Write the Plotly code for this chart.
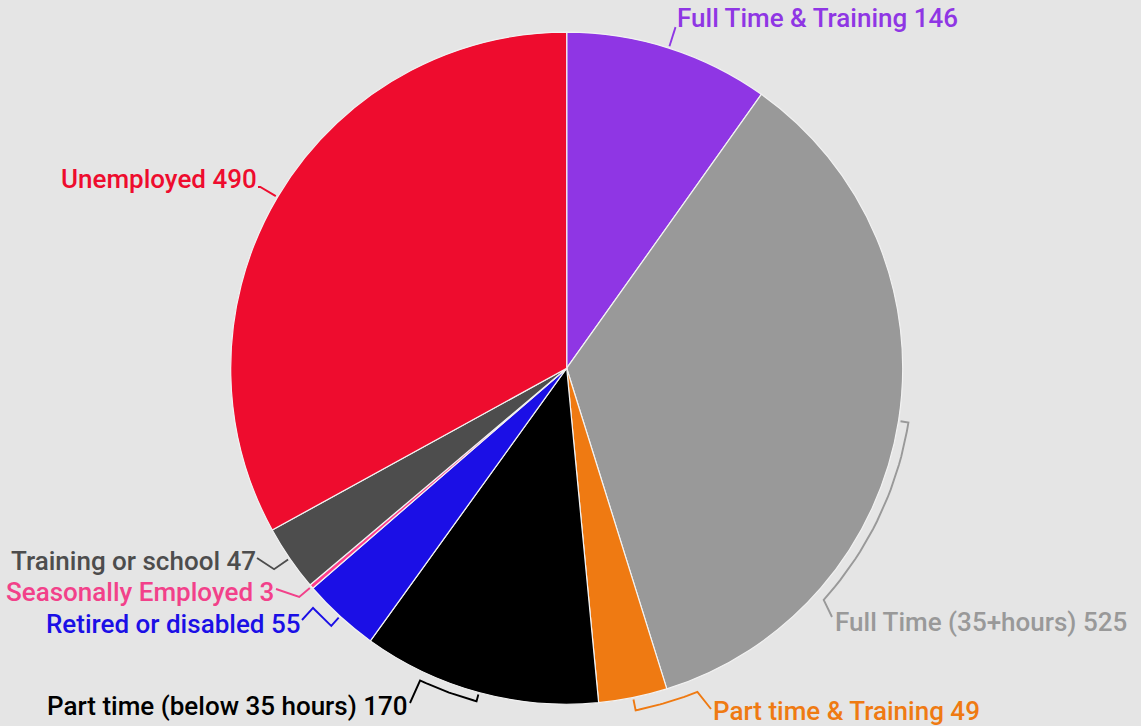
import numpy as np
import plotly.graph_objects as go

# ---- data ----
categories = [
    "Full Time & Training",
    "Full Time (35+hours)",
    "Part time & Training",
    "Part time (below 35 hours)",
    "Retired or disabled",
    "Seasonally Employed",
    "Training or school",
    "Unemployed",
]
values = [146, 525, 49, 170, 55, 3, 47, 490]

# ---- styles ----
slice_colors = ["#8f36e4", "#999999", "#ef7a12", "#000000",
                "#1b0fe6", "#ff3d8b", "#4d4d4d", "#ee0c2e"]
text_colors = ["#8f36e4", "#999999", "#ef7a12", "#000000",
               "#1b0fe6", "#f2418a", "#4d4d4d", "#ee0c2e"]
BG = "#e5e5e5"

W, H = 1141, 726
CX, CY, R = 566.7, 368.2, 336.0

# label layout per slice: tick length out of the rim, arc sweep (deg),
# leader end (px), text anchor (px), text alignment
tick_len = [22, 10, 13, 9, 13, 16, 19, 20]
arc_sweep = [0, 33, -10.6, 10, 4.2, 0, 0, 0]
leader_end = [None, (832, 617), (711, 709), (410, 703), (302, 620),
              (276, 589), (257, 558), (258, 187)]
text_pos = [(675, 18), (833, 622), (711, 711), (410, 706), (302, 624),
            (276, 592), (258, 561), (259, 179)]
text_align = ["left", "left", "left", "right", "right", "right", "right", "right"]

total = sum(values)
cum = np.cumsum([0] + values)
mids = [(cum[i] + values[i] / 2) / total * 360 for i in range(len(values))]


def pt(theta_deg, rho):
    t = np.radians(theta_deg)
    return CX + rho * np.sin(t), CY - rho * np.cos(t)


fig = go.Figure()

fig.add_trace(go.Pie(
    labels=categories,
    values=values,
    sort=False,
    direction="clockwise",
    rotation=0,
    marker=dict(colors=slice_colors, line=dict(color="#f2f2f2", width=1.2)),
    textinfo="none",
    hoverinfo="label+value",
    showlegend=False,
    domain=dict(x=[(CX - R) / W, (CX + R) / W],
                y=[(H - CY - R) / H, (H - CY + R) / H]),
))

annotations = []
for i, cat in enumerate(categories):
    m = mids[i]
    xs, ys = [], []
    x0, y0 = pt(m, R + 2)
    xs.append(x0); ys.append(y0)
    rr = R + tick_len[i]
    if arc_sweep[i] != 0:
        for th in np.linspace(m, m + arc_sweep[i], 24):
            x, y = pt(th, rr)
            xs.append(x); ys.append(y)
    else:
        x, y = pt(m, rr)
        xs.append(x); ys.append(y)
    if leader_end[i] is not None:
        xs.append(leader_end[i][0]); ys.append(leader_end[i][1])
    fig.add_trace(go.Scatter(
        x=xs, y=ys, mode="lines",
        line=dict(color=text_colors[i], width=1.9),
        hoverinfo="skip", showlegend=False,
    ))
    tx, ty = text_pos[i]
    annotations.append(dict(
        x=tx / W, y=1 - ty / H, xref="paper", yref="paper",
        text=f"{cat} {values[i]}", showarrow=False,
        xanchor=text_align[i], yanchor="middle",
        font=dict(family="Roboto", size=26, color=text_colors[i], weight=500),
    ))

fig.update_layout(
    width=W, height=H,
    margin=dict(l=0, r=0, t=0, b=0),
    paper_bgcolor=BG, plot_bgcolor="rgba(0,0,0,0)",
    xaxis=dict(range=[0, W], visible=False, fixedrange=True, domain=[0, 1]),
    yaxis=dict(range=[H, 0], visible=False, fixedrange=True, domain=[0, 1]),
    annotations=annotations,
    showlegend=False,
)

fig.write_html("out.html", config={"displayModeBar": False})

# remove the default page margin so the figure fills the window
with open("out.html", "r", encoding="utf-8") as f:
    html = f.read()
html = html.replace("<head>", "<head><style>html,body{margin:0;padding:0;overflow:hidden;background:%s;}</style>" % BG, 1)
with open("out.html", "w", encoding="utf-8") as f:
    f.write(html)
